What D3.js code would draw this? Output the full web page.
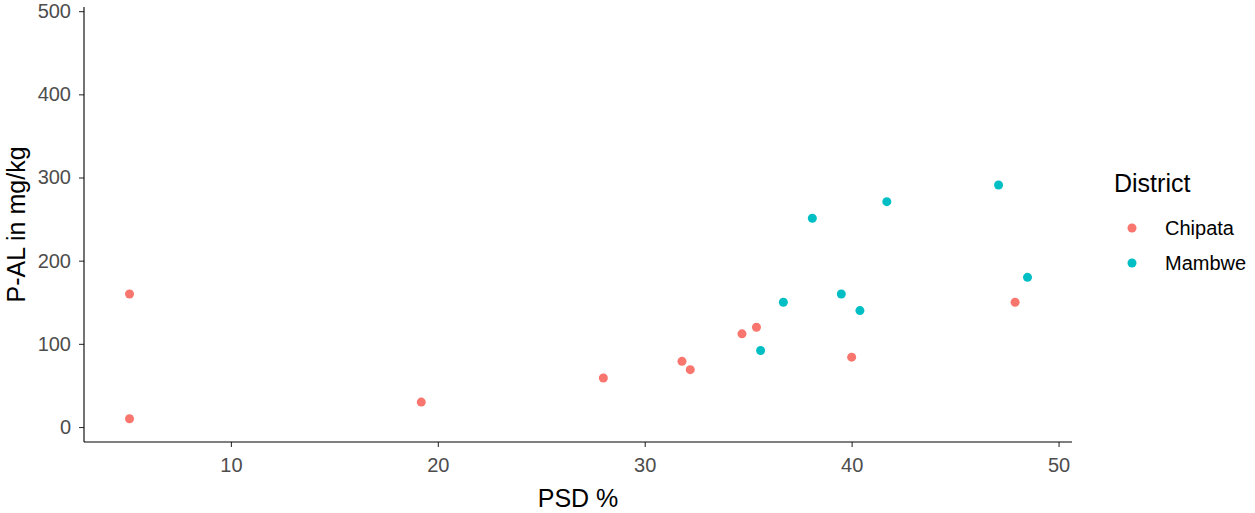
<!doctype html>
<html lang="en">
<head>
<meta charset="utf-8">
<title>P-AL vs PSD</title>
<style>
    body { margin: 0; background: #fff; }
    svg { font-family: "Liberation Sans", Arial, sans-serif; }
    .axis line { stroke: #333; stroke-width: 1.1px; }
    .axis text { fill: #4d4d4d; font-size: 20px; }
    .axis-line { stroke: #000; stroke-width: 1.1px; }
</style>
</head>
<body>
<svg width="1255" height="513"></svg>
<script src="https://d3js.org/d3.v7.min.js"></script>
<script>
    // data
    var chipataPSD = [5.1, 5.1, 19.2, 28.0, 31.8, 32.2, 34.7, 35.4, 40.0, 47.9];
    var chipataPAL = [160, 10, 30, 59, 79, 69, 112, 120, 84, 150];
    var mambwePSD = [35.6, 36.7, 38.1, 39.5, 40.4, 41.7, 47.1, 48.5];
    var mambwePAL = [92, 150, 251, 160, 140, 271, 291, 180];
    var districts = ["Chipata", "Mambwe"];
    var colours = ["#F8766D", "#00BFC4"];
    var xTicks = [10, 20, 30, 40, 50];
    var yTicks = [0, 100, 200, 300, 400, 500];

    var svg = d3.select("svg");

    // "top" is taken by window.top, hence plotTop
    var left = 84, right = 1072, bottom = 442, plotTop = 7;

    var x = d3.scaleLinear().domain([2.9, 50.65]).range([left, right]);
    var y = d3.scaleLinear().domain([-18, 505]).range([bottom, plotTop]);

    var color = d3.scaleOrdinal().domain(districts).range(colours);

    var points = [];
    chipataPSD.forEach(function (v, i) {
        points.push({ psd: v, pal: chipataPAL[i], district: "Chipata" });
    });
    mambwePSD.forEach(function (v, i) {
        points.push({ psd: v, pal: mambwePAL[i], district: "Mambwe" });
    });

    // axes
    var xAxis = svg.append("g")
        .attr("class", "axis")
        .attr("transform", "translate(0," + bottom + ")")
        .call(d3.axisBottom(x).tickValues(xTicks).tickSize(5).tickPadding(11));
    xAxis.select(".domain").remove();

    var yAxis = svg.append("g")
        .attr("class", "axis")
        .attr("transform", "translate(" + left + ",0)")
        .call(d3.axisLeft(y).tickValues(yTicks).tickSize(5).tickPadding(8));
    yAxis.select(".domain").remove();

    svg.append("line").attr("class", "axis-line")
        .attr("x1", left).attr("x2", right).attr("y1", bottom).attr("y2", bottom);
    svg.append("line").attr("class", "axis-line")
        .attr("x1", left).attr("x2", left).attr("y1", plotTop).attr("y2", bottom);

    // points
    svg.append("g")
        .selectAll("circle")
        .data(points)
        .enter().append("circle")
        .attr("cx", function (d) { return x(d.psd); })
        .attr("cy", function (d) { return y(d.pal); })
        .attr("r", 4.5)
        .attr("fill", function (d) { return color(d.district); });

    // axis titles
    svg.append("text")
        .attr("x", (left + right) / 2)
        .attr("y", 507)
        .attr("text-anchor", "middle")
        .style("font-size", "25px")
        .text("PSD %");

    svg.append("text")
        .attr("transform", "translate(25," + ((bottom + plotTop) / 2) + ") rotate(-90)")
        .attr("text-anchor", "middle")
        .style("font-size", "25px")
        .text("P-AL in mg/kg");

    // legend
    svg.append("text")
        .attr("x", 1114)
        .attr("y", 192)
        .style("font-size", "25px")
        .text("District");

    var legend = svg.selectAll(".legend")
        .data(districts)
        .enter().append("g")
        .attr("class", "legend")
        .attr("transform", function (d, i) { return "translate(1132," + (228 + i * 35) + ")"; });

    legend.append("circle")
        .attr("r", 4.5)
        .attr("fill", function (d) { return color(d); });

    legend.append("text")
        .attr("x", 33)
        .attr("dy", "0.36em")
        .style("font-size", "20px")
        .text(function (d) { return d; });
</script>
</body>
</html>
